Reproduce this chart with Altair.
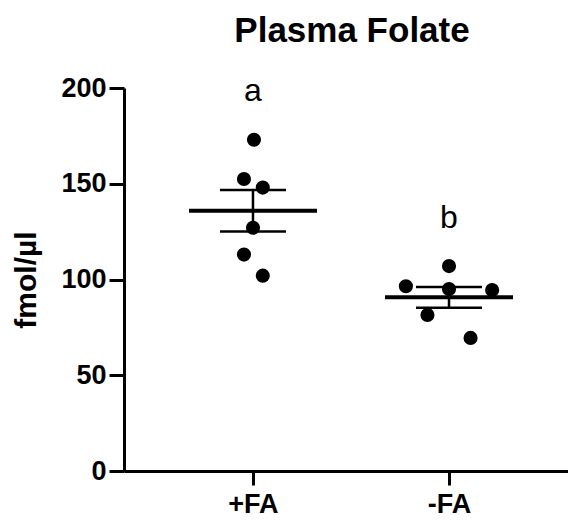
import altair as alt
import pandas as pd
import numpy as np

groups = ["+FA", "-FA"]
plus_fa = [173, 152.5, 148, 127, 113, 102]
minus_fa = [107, 96.5, 95, 94.5, 81.5, 69.5]
# horizontal scatter of the dots (fraction of category spacing)
plus_jitter = [0.005, -0.046, 0.05, 0.0, -0.046, 0.05]
minus_jitter = [0.0, -0.22, 0.0, 0.22, -0.11, 0.11]
letters = ["a", "b"]
letter_y = [193, 127]

rows = []
for gi, (vals, jit) in enumerate([(plus_fa, plus_jitter), (minus_fa, minus_jitter)]):
    for v, j in zip(vals, jit):
        rows.append({"group": groups[gi], "gx": gi, "x": gi + j, "value": v})
pts = pd.DataFrame(rows)

summ = []
for gi, vals in enumerate([plus_fa, minus_fa]):
    a = np.array(vals, dtype=float)
    m = a.mean()
    sem = a.std(ddof=1) / np.sqrt(len(a))
    summ.append({"group": groups[gi], "gx": gi, "mean": m, "lo": m - sem, "hi": m + sem})
summ = pd.DataFrame(summ)

lab = pd.DataFrame({"gx": [0, 1], "letter": letters, "y": letter_y})

xscale = alt.Scale(domain=[-0.658, 1.607], nice=False, zero=False)
yscale = alt.Scale(domain=[0, 200], nice=False)

xaxis = alt.Axis(values=[0, 1], labelExpr="datum.value == 0 ? '+FA' : '-FA'",
                 title=None, grid=False, tickSize=14, labelPadding=6)
yaxis = alt.Axis(values=[0, 50, 100, 150, 200], title="fmol/µl", grid=False,
                 tickSize=15, labelPadding=3, titleX=-89, titleBaseline="alphabetic")

points = alt.Chart(pts).mark_circle(size=200, color="black", opacity=1).encode(
    x=alt.X("x:Q", scale=xscale, axis=xaxis),
    y=alt.Y("value:Q", scale=yscale, axis=yaxis),
)

mean_tick = alt.Chart(summ).mark_tick(orient="horizontal", size=128, thickness=4, color="black", opacity=1).encode(
    x=alt.X("gx:Q", scale=xscale),
    y=alt.Y("mean:Q", scale=yscale),
)

sem_rule = alt.Chart(summ).mark_rule(color="black", strokeWidth=2.5).encode(
    x=alt.X("gx:Q", scale=xscale),
    y=alt.Y("lo:Q", scale=yscale),
    y2="hi:Q",
)

hi_tick = alt.Chart(summ).mark_tick(orient="horizontal", size=66, thickness=2.5, color="black", opacity=1).encode(
    x=alt.X("gx:Q", scale=xscale),
    y=alt.Y("hi:Q", scale=yscale),
)
lo_tick = alt.Chart(summ).mark_tick(orient="horizontal", size=66, thickness=2.5, color="black", opacity=1).encode(
    x=alt.X("gx:Q", scale=xscale),
    y=alt.Y("lo:Q", scale=yscale),
)

letters_layer = alt.Chart(lab).mark_text(fontSize=32, font="Liberation Sans", baseline="alphabetic",
                                         align="center", color="black").encode(
    x=alt.X("gx:Q", scale=xscale),
    y=alt.Y("y:Q", scale=yscale),
    text="letter:N",
)

chart = alt.layer(sem_rule, hi_tick, lo_tick, mean_tick, points, letters_layer).properties(
    width=444, height=383,
    background="white",
    title=alt.TitleParams("Plasma Folate", fontSize=35, font="Liberation Sans", fontWeight="bold",
                          anchor="middle", color="black", dx=6, offset=25),
    autosize=alt.AutoSizeParams(type="none"),
    padding={"left": 116, "top": 80, "right": 0, "bottom": 50},
).configure_view(stroke=None).configure_axis(
    domainColor="black", domainWidth=3, tickColor="black", tickWidth=3,
    labelFont="Liberation Sans", labelFontSize=27, labelFontWeight="bold", labelColor="black",
    titleFont="Liberation Sans", titleFontSize=30, titleFontWeight="bold", titleColor="black",
)

chart.save("out.html", embed_options={"renderer": "svg", "actions": False})
